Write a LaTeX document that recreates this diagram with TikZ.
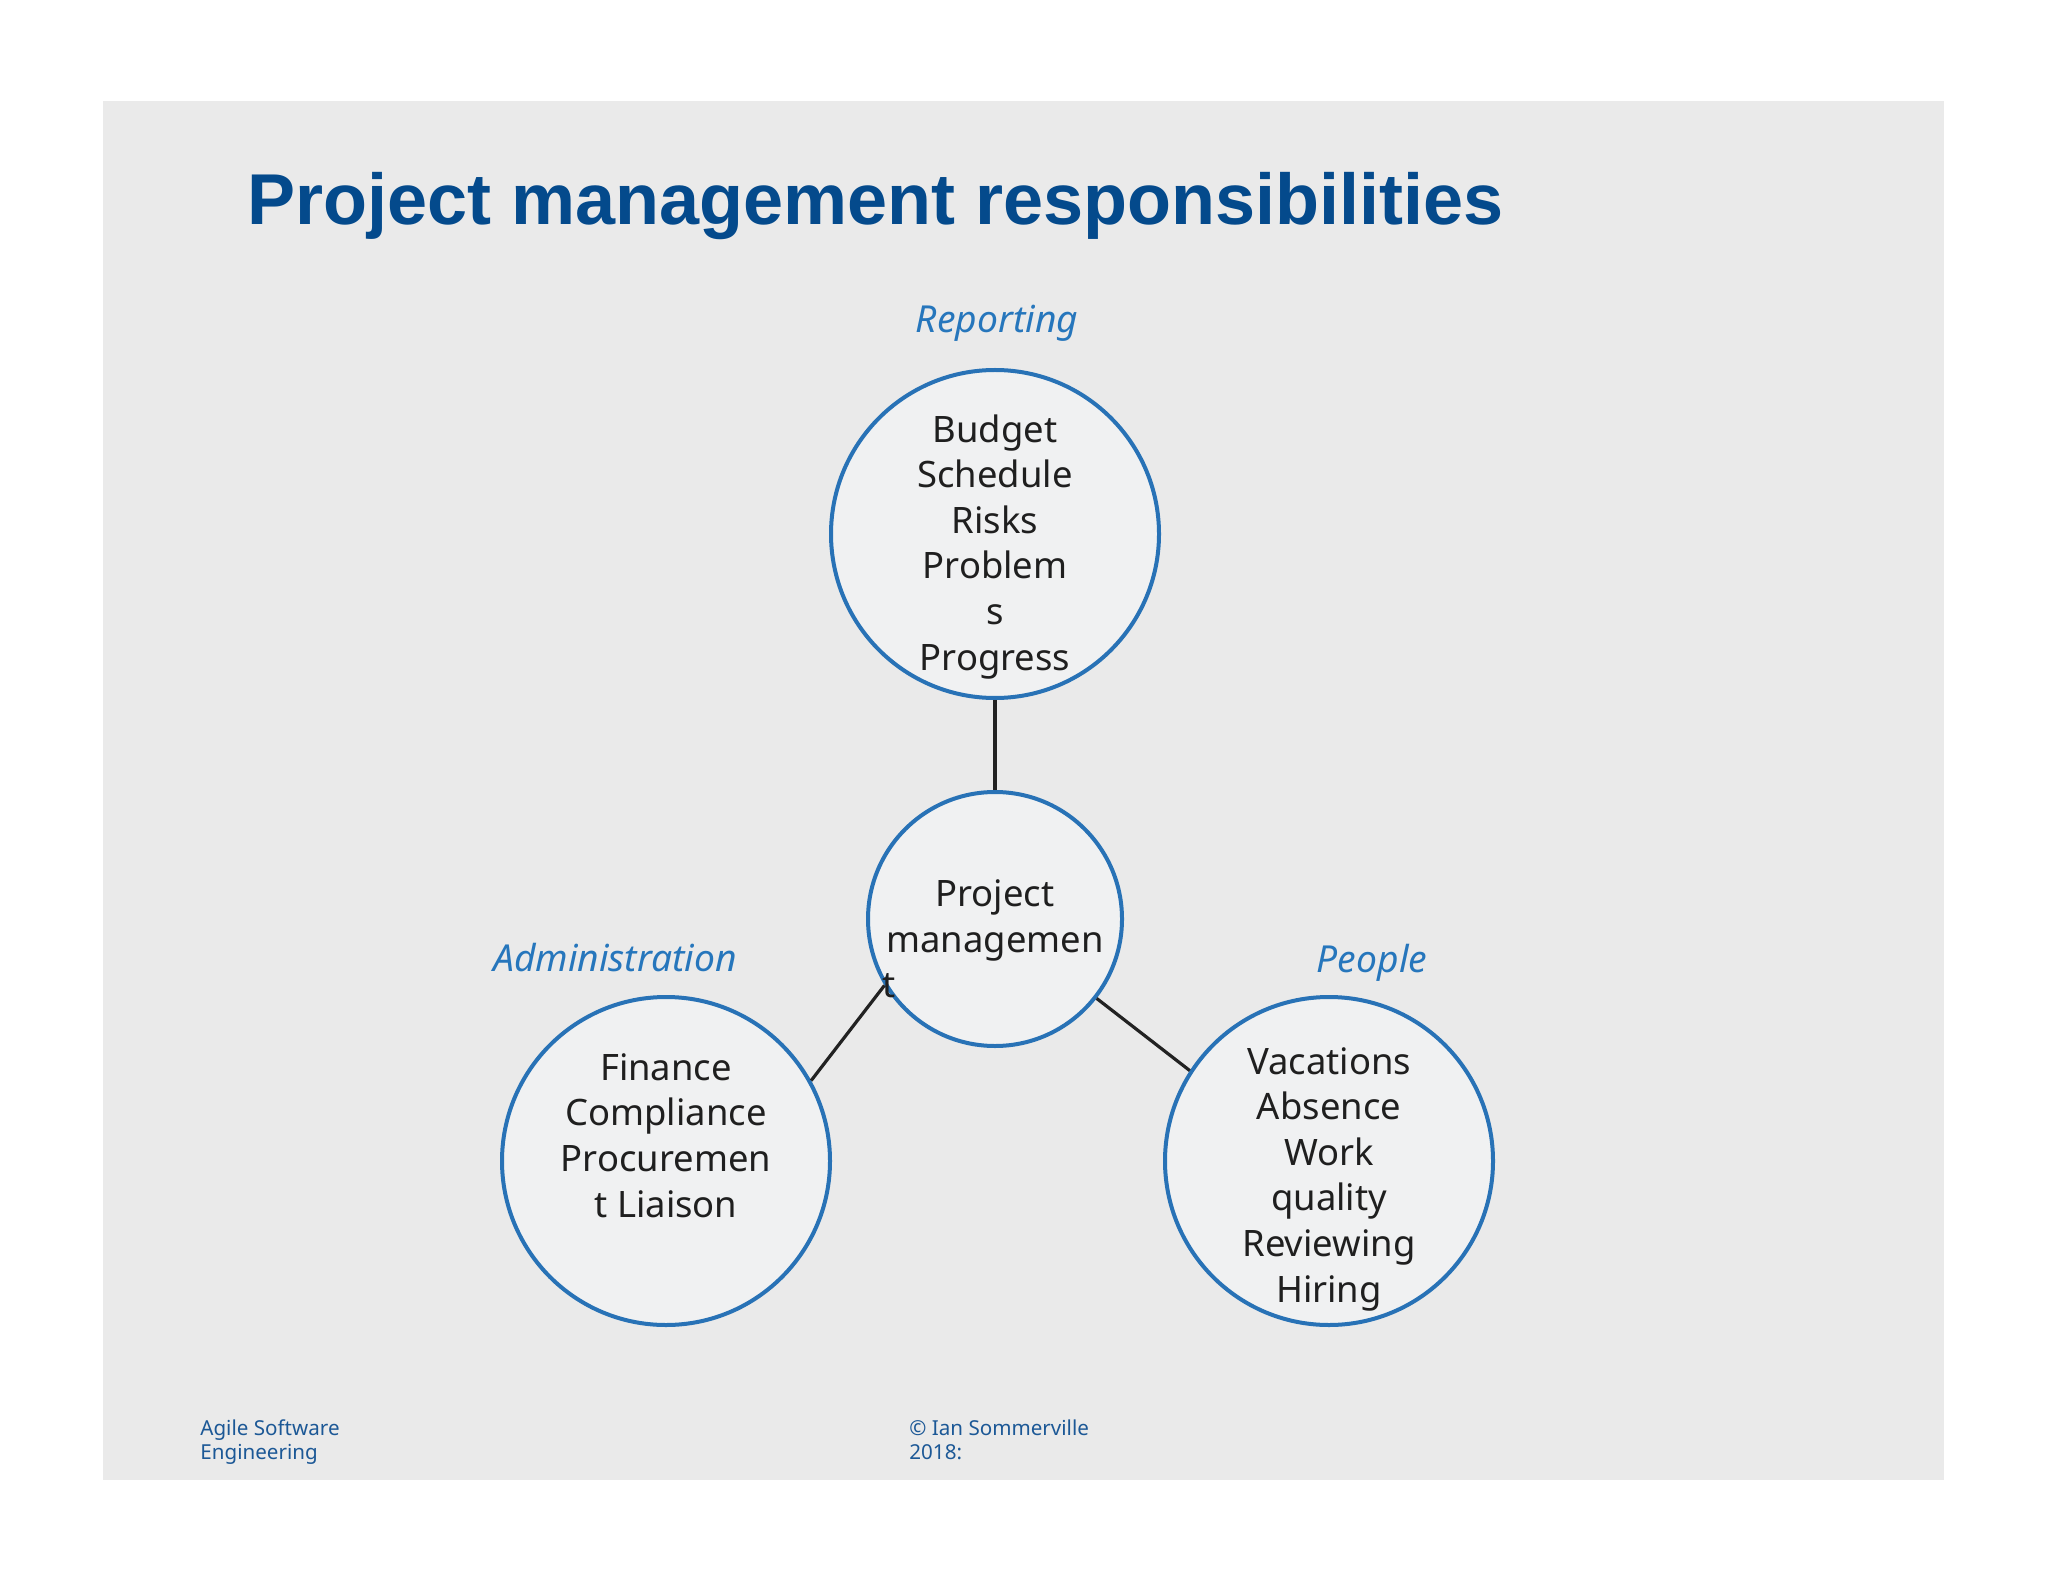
\documentclass[tikz,border=0pt]{standalone}
\usepackage{fontspec}
\setmainfont{Noto Sans}
\newfontfamily\titlefont{Liberation Sans}
\definecolor{bggray}{RGB}{234,234,234}
\definecolor{titleblue}{RGB}{4,74,140}
\definecolor{labelblue}{RGB}{38,118,188}
\definecolor{ringblue}{RGB}{40,114,182}
\definecolor{ringfill}{RGB}{240,241,242}
\definecolor{footblue}{RGB}{28,88,150}
\definecolor{linedark}{RGB}{34,34,34}
\tikzset{
  ring/.style={circle, draw=ringblue, line width=2pt, fill=ringfill, inner sep=0pt},
  bigring/.style={ring, minimum size=164pt},
  smallring/.style={ring, minimum size=127pt},
  body/.style={align=center, anchor=base, inner sep=0pt, text=black!88,
    font=\fontsize{18.2}{22.8}\selectfont},
  cat/.style={anchor=base, inner sep=0pt, text=labelblue,
    font=\fontsize{18.6}{22.8}\selectfont\itshape},
  foot/.style={anchor=base west, align=left, inner sep=0pt, text=footblue,
    font=\fontsize{10.3}{11.8}\selectfont},
  link/.style={draw=linedark, line width=1.6pt}
}
\begin{document}
\begin{tikzpicture}[x=0.5pt,y=-0.5pt]
\useasboundingbox (0,0) rectangle (2048,1582);
\fill[white] (0,0) rectangle (2048,1582);
\fill[bggray] (103,101) rectangle (1944,1480);
\node[anchor=base west, inner sep=0pt, text=titleblue,
  font=\titlefont\bfseries\fontsize{36}{40}\selectfont] (title) at (247,225)
  {Project management responsibilities};
% circles
\node[bigring] (crep) at (995,534) {};
\node[smallring] (cctr) at (995,919) {};
\node[bigring] (cadm) at (666,1161) {};
\node[bigring] (cppl) at (1329,1161) {};
% connectors
\draw[link] (crep.south) -- (cctr.north);
\draw[link] (cadm.29) -- (cctr.211);
\draw[link] (cppl.147) -- (cctr.322);
% category labels
\node[cat] (lrep) at (997,333) {Reporting};
\node[cat] (ladm) at (615,971) {Administration};
\node[cat] (lppl) at (1372,972) {People};
% circle texts (base anchor = last line)
\node[body] (trep) at (995,670) {Budget\\Schedule\\Risks\\Problem\\s\\Progress};
\node[body] (tctr) at (995,952) {Project\\managemen};
\node[body, anchor=base west] (tctrt) at (882,997) {t};
\node[body] (tadm) at (666,1217) {Finance\\Compliance\\Procuremen\\t Liaison};
\node[body] (tppl) at (1329,1302) {Vacations\\Absence\\Work\\quality\\Reviewing\\Hiring};
% footer
\node[foot] (fl) at (200,1459) {Agile Software\\Engineering};
\node[foot] (fr) at (909,1459) {© Ian Sommerville\\2018:};
\end{tikzpicture}
\end{document}
